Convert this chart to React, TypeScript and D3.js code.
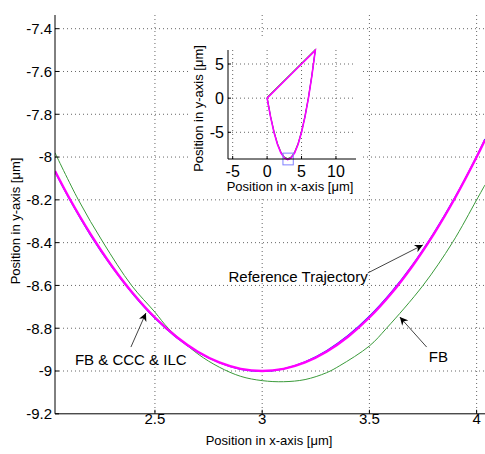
import React from 'react';
import * as d3 from 'd3';

// main view (zoomed into the bottom of the trajectory)
const refX = [2.034, 2.1, 2.2, 2.3, 2.4, 2.5, 2.6, 2.7, 2.8, 2.9, 3.0, 3.1, 3.2, 3.3, 3.4, 3.5, 3.6, 3.7, 3.8, 3.9, 4.0, 4.039];
const refY = [-8.065, -8.19, -8.36, -8.51, -8.64, -8.75, -8.84, -8.91, -8.96, -8.99, -9.0, -8.99, -8.96, -8.91, -8.84, -8.75, -8.64, -8.51, -8.36, -8.19, -8.0, -7.92];
const ilcY = [-8.07, -8.195, -8.366, -8.515, -8.644, -8.754, -8.843, -8.912, -8.961, -8.992, -9.002, -8.99, -8.957, -8.905, -8.834, -8.744, -8.634, -8.505, -8.355, -8.186, -7.996, -7.916];
const fbX = [2.034, 2.143, 2.259, 2.391, 2.5, 2.562, 2.7, 2.8, 2.9, 3.0, 3.1, 3.2, 3.3, 3.362, 3.5, 3.58, 3.75, 3.887, 4.0, 4.039];
const fbY = [-7.98, -8.2, -8.4, -8.6, -8.725, -8.8, -8.92, -8.982, -9.025, -9.045, -9.05, -9.04, -9.008, -8.975, -8.883, -8.8, -8.6, -8.4, -8.2, -8.13];

const xTicks = [2.5, 3, 3.5, 4];
const yTicks = [-7.4, -7.6, -7.8, -8, -8.2, -8.4, -8.6, -8.8, -9, -9.2];

// inset: whole trajectory
const insetX = [0, 0.5, 1, 1.5, 2, 2.5, 3, 3.5, 4, 4.5, 5, 5.5, 6, 6.5, 7, 3.5, 0];
const insetY = [0, -2.75, -5, -6.75, -8, -8.75, -9, -8.75, -8, -6.75, -5, -2.75, 0, 3.25, 7, 3.5, 0];
const insetXTicks = [-5, 0, 5, 10];
const insetYTicks = [5, 0, -5];
const zoomBoxX = [2.3, 3.8];
const zoomBoxY = [-9.77, -8.05];

// annotations [text x, text y, arrow tail x, tail y, head x, head y]
const labels = ['Reference Trajectory', 'FB', 'FB & CCC & ILC'];
const labelAnchor = ['end', 'start', 'start'];
const labelPos = [[3.492, -8.582], [3.777, -8.957], [2.127, -8.972]];
const arrows = [[3.492, -8.542, 3.749, -8.411], [3.767, -8.888, 3.642, -8.748], [2.388, -8.888, 2.458, -8.729]];

const font = 'Liberation Sans, Arial, Helvetica, sans-serif';

export default function App() {
  const W = 485, H = 454;
  const x = d3.scaleLinear().domain([2.034, 4.039]).range([55, 485]);
  const y = d3.scaleLinear().domain([-9.2, -7.336]).range([413.8, 15]);

  const ix = d3.scaleLinear().domain([-5.68, 12.91]).range([228, 356]);
  const iy = d3.scaleLinear().domain([-8.91, 7.05]).range([159, 50]);

  const line = (xs: number[], ys: number[]) =>
    d3.line<number>().x((d, i) => x(xs[i])).y((d) => y(d)).curve(d3.curveCatmullRom)(ys) || '';
  const iline = (xs: number[], ys: number[]) =>
    d3.line<number>().x((d, i) => ix(xs[i])).y((d) => iy(d))(ys) || '';

  const grid = { stroke: '#666', strokeWidth: 1, strokeDasharray: '1,3' };

  return (
    <svg width={W} height={H} style={{ position: 'absolute', left: 0, top: 0, background: '#fff' }} fontFamily={font}>
      <defs>
        <clipPath id="plot"><rect x={55} y={15} width={430} height={398.8} /></clipPath>
        <marker id="head" viewBox="0 0 10 10" refX={10} refY={5} markerWidth={10} markerHeight={8} markerUnits="userSpaceOnUse" orient="auto">
          <path d="M0,0 L10,5 L0,10 L3,5 Z" fill="#000" />
        </marker>
      </defs>

      {xTicks.map((t) => (
        <line key={'gx' + t} x1={x(t)} x2={x(t)} y1={15} y2={413.8} {...grid} />
      ))}
      {yTicks.slice(0, -1).map((t) => (
        <line key={'gy' + t} x1={55} x2={485} y1={y(t)} y2={y(t)} {...grid} />
      ))}

      <g clipPath="url(#plot)" fill="none">
        <path d={line(fbX, fbY)} stroke="#3a9a3a" strokeWidth={1} />
        <path d={line(refX, ilcY)} stroke="#2020ff" strokeWidth={1.2} />
        <path d={line(refX, refY)} stroke="#ff00ff" strokeWidth={2.4} />
      </g>

      <line x1={55} x2={55} y1={15} y2={413.8} stroke="#000" />
      <line x1={55} x2={485} y1={413.8} y2={413.8} stroke="#000" />
      {xTicks.map((t) => (
        <g key={'tx' + t}>
          <line x1={x(t)} x2={x(t)} y1={413.8} y2={409.8} stroke="#000" />
          <text x={x(t)} y={424.3} fontSize={15} textAnchor="middle">{t}</text>
        </g>
      ))}
      {yTicks.map((t) => (
        <g key={'ty' + t}>
          <line x1={55} x2={59} y1={y(t)} y2={y(t)} stroke="#000" />
          <text x={52} y={y(t)} dy="0.36em" fontSize={15} textAnchor="end">{t}</text>
        </g>
      ))}
      <text x={269} y={445} fontSize={13} textAnchor="middle">Position in x-axis [μm]</text>
      <text transform="translate(20,221) rotate(-90)" fontSize={13} textAnchor="middle">Position in y-axis [μm]</text>

      {labels.map((l, i) => (
        <text key={l} x={x(labelPos[i][0])} y={y(labelPos[i][1])} fontSize={15} textAnchor={labelAnchor[i]}>{l}</text>
      ))}
      {arrows.map((a, i) => (
        <line key={'ar' + i} x1={x(a[0])} y1={y(a[1])} x2={x(a[2])} y2={y(a[3])} stroke="#444" strokeWidth={1} markerEnd="url(#head)" />
      ))}

      {/* inset */}
      <rect x={188} y={36} width={174} height={160} fill="#fff" />
      {insetXTicks.map((t) => (
        <line key={'igx' + t} x1={ix(t)} x2={ix(t)} y1={50} y2={159} {...grid} />
      ))}
      {insetYTicks.map((t) => (
        <line key={'igy' + t} x1={228} x2={356} y1={iy(t)} y2={iy(t)} {...grid} />
      ))}
      <g fill="none">
        <path d={iline(insetX, insetY.map((v) => v + 0.15))} stroke="#3a9a3a" strokeWidth={1} />
        <path d={iline(insetX, insetY)} stroke="#2020ff" strokeWidth={1} />
        <path d={iline(insetX, insetY)} stroke="#ff00ff" strokeWidth={1.6} />
        <rect x={ix(zoomBoxX[0])} y={iy(zoomBoxY[1])} width={ix(zoomBoxX[1]) - ix(zoomBoxX[0])} height={iy(zoomBoxY[0]) - iy(zoomBoxY[1])} stroke="#8080ff" strokeWidth={1} />
      </g>
      <line x1={228} x2={228} y1={50} y2={159} stroke="#000" />
      <line x1={228} x2={356} y1={159} y2={159} stroke="#000" />
      {insetXTicks.map((t) => (
        <g key={'itx' + t}>
          <line x1={ix(t)} x2={ix(t)} y1={159} y2={156} stroke="#000" />
          <text x={ix(t)} y={177.3} fontSize={16} textAnchor="middle">{t}</text>
        </g>
      ))}
      {insetYTicks.map((t) => (
        <g key={'ity' + t}>
          <line x1={228} x2={231} y1={iy(t)} y2={iy(t)} stroke="#000" />
          <text x={224} y={iy(t)} dy="0.36em" fontSize={16} textAnchor="end">{t}</text>
        </g>
      ))}
      <text x={290} y={191} fontSize={13} textAnchor="middle">Position in x-axis [μm]</text>
      <text transform="translate(203,108.5) rotate(-90)" fontSize={13} textAnchor="middle">Position in y-axis [μm]</text>
    </svg>
  );
}
